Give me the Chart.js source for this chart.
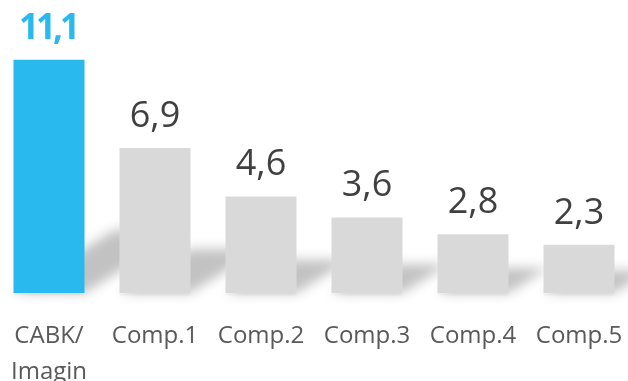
<!DOCTYPE html>
<html>
<head>
<meta charset="utf-8">
<script src="https://cdn.jsdelivr.net/npm/chart.js@4"></script>
<style>
  html, body { margin: 0; padding: 0; background: #fff; overflow: hidden; }
  body { width: 628px; height: 381px; position: relative; }
  #wrap { position: absolute; left: -4px; top: 0; width: 636px; height: 381px; }
</style>
</head>
<body>
<div id="wrap"><canvas id="compChart"></canvas></div>
<script>
// data
const categories = [['CABK/', 'Imagin'], 'Comp.1', 'Comp.2', 'Comp.3', 'Comp.4', 'Comp.5'];
const values = [11.1, 6.9, 4.6, 3.6, 2.8, 2.3];
const barColors = ['#29b9ef', '#d9d9d9', '#d9d9d9', '#d9d9d9', '#d9d9d9', '#d9d9d9'];
const labelColors = ['#29b9ef', '#404040', '#404040', '#404040', '#404040', '#404040'];

// soft slanted shadow behind each bar
const barShadow = {
    id: 'barShadow',
    beforeDatasetsDraw(chart) {
        const ctx = chart.ctx;
        const meta = chart.getDatasetMeta(0);
        ctx.save();
        ctx.filter = 'blur(6px)';
        ctx.fillStyle = 'rgba(0,0,0,0.24)';
        meta.data.forEach(bar => {
            const p = bar.getProps(['x', 'y', 'base', 'width'], true);
            const x0 = p.x - p.width / 2, x1 = p.x + p.width / 2;
            const h = p.base - p.y;
            const dy = 0.22 * h + 12;
            const dx = 1.6 * dy;
            ctx.beginPath();
            ctx.moveTo(x0, p.base);
            ctx.lineTo(x1, p.base);
            ctx.lineTo(x1 + dx, p.base - dy);
            ctx.lineTo(x0 + dx, p.base - dy);
            ctx.closePath();
            ctx.fill();
        });
        ctx.filter = 'blur(1px)';
        ctx.fillStyle = 'rgba(0,0,0,0.06)';
        meta.data.forEach(bar => {
            const p = bar.getProps(['x', 'base', 'width'], true);
            ctx.fillRect(p.x - p.width / 2, p.base, p.width, 2);
        });
        ctx.restore();
    }
};

// value labels above bars
const valueLabels = {
    id: 'valueLabels',
    afterDatasetsDraw(chart) {
        const ctx = chart.ctx;
        const meta = chart.getDatasetMeta(0);
        ctx.save();
        ctx.textAlign = 'center';
        ctx.textBaseline = 'alphabetic';
        meta.data.forEach((bar, i) => {
            const txt = values[i].toFixed(1).replace('.', ',');
            if (i === 0) {
                // first one is bold and a bit tighter
                ctx.font = 'bold 35px "Open Sans"';
                ctx.letterSpacing = '-3px';
                ctx.fillStyle = labelColors[i];
                ctx.fillText(txt, bar.x - 1, bar.y - 21);
                ctx.letterSpacing = '0px';
            } else {
                ctx.font = '36px "Open Sans"';
                ctx.fillStyle = labelColors[i];
                ctx.fillText(txt, bar.x, bar.y - 21);
            }
        });
        ctx.restore();
    }
};

const ctx1 = document.getElementById('compChart').getContext('2d');

new Chart(ctx1, {
    type: 'bar',
    data: {
        labels: categories,
        datasets: [{
            data: values,
            backgroundColor: barColors,
            borderWidth: 0,
            categoryPercentage: 1,
            barPercentage: 0.67
        }]
    },
    options: {
        responsive: true,
        maintainAspectRatio: false,
        animation: false,
        layout: { padding: 0 },
        plugins: {
            legend: { display: false },
            tooltip: { enabled: false }
        },
        scales: {
            y: {
                display: false,
                min: 0,
                max: 13.95
            },
            x: {
                grid: { display: false, drawTicks: false },
                border: { display: false },
                ticks: {
                    color: '#595959',
                    padding: 25,
                    font: { family: 'Open Sans', size: 24, lineHeight: 1.5 }
                },
                afterFit(scale) {
                    scale.height = 88;
                    scale.paddingLeft = 0;
                    scale.paddingRight = 0;
                }
            }
        }
    },
    plugins: [barShadow, valueLabels]
});
</script>
</body>
</html>
